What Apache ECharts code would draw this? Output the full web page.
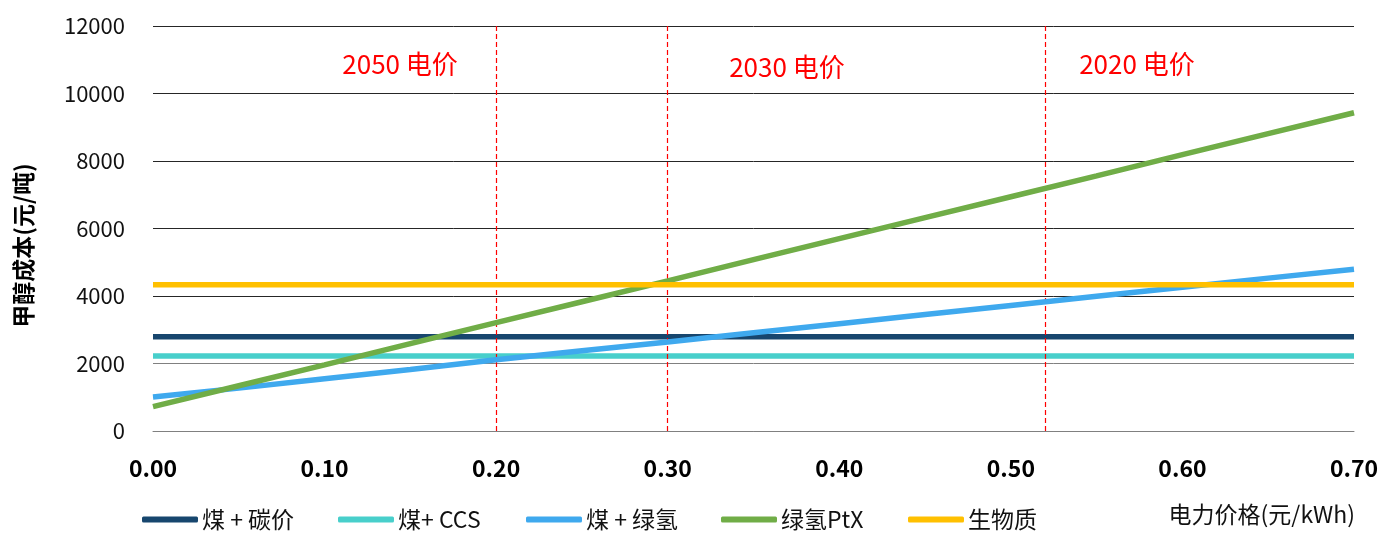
<!DOCTYPE html>
<html>
<head>
<meta charset="utf-8">
<script src="https://cdn.jsdelivr.net/npm/echarts@6/dist/echarts.min.js"></script>
<style>
html,body{margin:0;padding:0;background:#fff;}
#chart{width:1382px;height:533px;}
</style>
</head>
<body>
<div id="chart"></div>
<script>
// ---- data ----
const xPrices = [0, 0.05, 0.10, 0.15, 0.20, 0.25, 0.30, 0.35, 0.40, 0.45, 0.50, 0.55, 0.60, 0.65, 0.70];
const seriesNames = ['煤 + 碳价', '煤+ CCS', '煤 + 绿氢', '绿氢PtX', '生物质'];
const coalCarbon = [2790, 2790, 2790, 2790, 2790, 2790, 2790, 2790, 2790, 2790, 2790, 2790, 2790, 2790, 2790];
const coalCCS = [2225, 2225, 2225, 2225, 2225, 2225, 2225, 2225, 2225, 2225, 2225, 2225, 2225, 2225, 2225];
const coalGreenH2 = [1010, 1270, 1550, 1820, 2110, 2380, 2640, 2910, 3180, 3450, 3720, 3990, 4260, 4530, 4790];
const greenPtX = [720, 1340, 1960, 2590, 3210, 3830, 4450, 5080, 5700, 6320, 6940, 7560, 8190, 8810, 9430];
const biomass = [4330, 4330, 4330, 4330, 4330, 4330, 4330, 4330, 4330, 4330, 4330, 4330, 4330, 4330, 4330];
const priceMarks = [0.20, 0.30, 0.52];
const priceLabels = ['2050 电价', '2030 电价', '2020 电价'];
const priceLabelPos = [[0.144, 10870], [0.3695, 10790], [0.5735, 10870]];
const xAxisTitle = '电力价格(元/kWh)';
const yAxisTitle = '甲醇成本(元/吨)';

const colors = ['#17466E', '#48CFCB', '#3FA9EE', '#70AD47', '#FFC000'];
const values = [coalCarbon, coalCCS, coalGreenH2, greenPtX, biomass];
const FONT = '"Noto Sans CJK SC", "Noto Sans", sans-serif';

const series = seriesNames.map((name, i) => ({
  name: name,
  type: 'line',
  data: xPrices.map((x, j) => [x, values[i][j]]),
  symbol: 'none',
  smooth: false,
  lineStyle: { width: 5.5, color: colors[i], cap: 'butt' },
  itemStyle: { color: colors[i] },
  z: 3 + i
}));

series.push({
  name: 'marks',
  type: 'line',
  data: [],
  silent: true,
  markLine: {
    silent: true,
    symbol: ['none', 'none'],
    label: { show: false },
    lineStyle: { color: '#FF0000', type: [5, 3], width: 1.2 },
    data: priceMarks.map(v => ({ xAxis: v }))
  },
  markPoint: {
    silent: true,
    symbol: 'rect',
    symbolSize: 1,
    itemStyle: { color: 'rgba(0,0,0,0)' },
    label: {
      show: true, position: 'inside', color: '#FF0000', fontSize: 26, fontFamily: FONT,
      formatter: p => p.name
    },
    data: priceLabels.map((t, i) => ({ name: t, coord: priceLabelPos[i] }))
  }
});

const legendLeft = [142, 338, 526, 721, 908];
const legends = seriesNames.map((n, i) => ({
  data: [n],
  left: legendLeft[i],
  top: 508,
  padding: 0,
  itemWidth: 56,
  itemHeight: 6,
  itemGap: 4,
  icon: 'roundRect',
  textStyle: { fontSize: 23, color: '#111', fontFamily: FONT, padding: [0, 0, 0, -1] },
  selectedMode: false
}));

const chart = echarts.init(document.getElementById('chart'));
chart.setOption({
  animation: false,
  backgroundColor: '#fff',
  color: colors,
  textStyle: { fontFamily: FONT },
  grid: { left: 153, right: 28, top: 26, bottom: 102, containLabel: false },
  legend: legends,
  xAxis: {
    type: 'value', min: 0, max: 0.7, interval: 0.1,
    axisLine: { show: true, lineStyle: { color: '#808080', width: 1 } },
    axisTick: { show: false },
    splitLine: { show: false },
    axisLabel: {
      margin: 26, fontSize: 23, fontWeight: 'bold', color: '#000', fontFamily: FONT,
      formatter: v => v.toFixed(2)
    }
  },
  yAxis: {
    type: 'value', min: 0, max: 12000, interval: 2000,
    name: yAxisTitle, nameLocation: 'middle', nameGap: 118, nameRotate: 90,
    nameTextStyle: { fontSize: 23, fontWeight: 'bold', color: '#000', fontFamily: FONT, padding: [0, 0, 0, -34] },
    axisLine: { show: false },
    axisTick: { show: false },
    splitLine: { show: true, lineStyle: { color: ['#808080', '#808080', '#262626', '#262626', '#262626', '#262626', '#262626'], width: 1 } },
    axisLabel: { margin: 28, fontSize: 22, color: '#111', fontFamily: FONT, formatter: v => String(v) }
  },
  graphic: [{
    type: 'text', right: 27, top: 503,
    style: { text: xAxisTitle, fontSize: 23, fill: '#111', fontFamily: FONT }
  }],
  series: series
});
</script>
</body>
</html>
